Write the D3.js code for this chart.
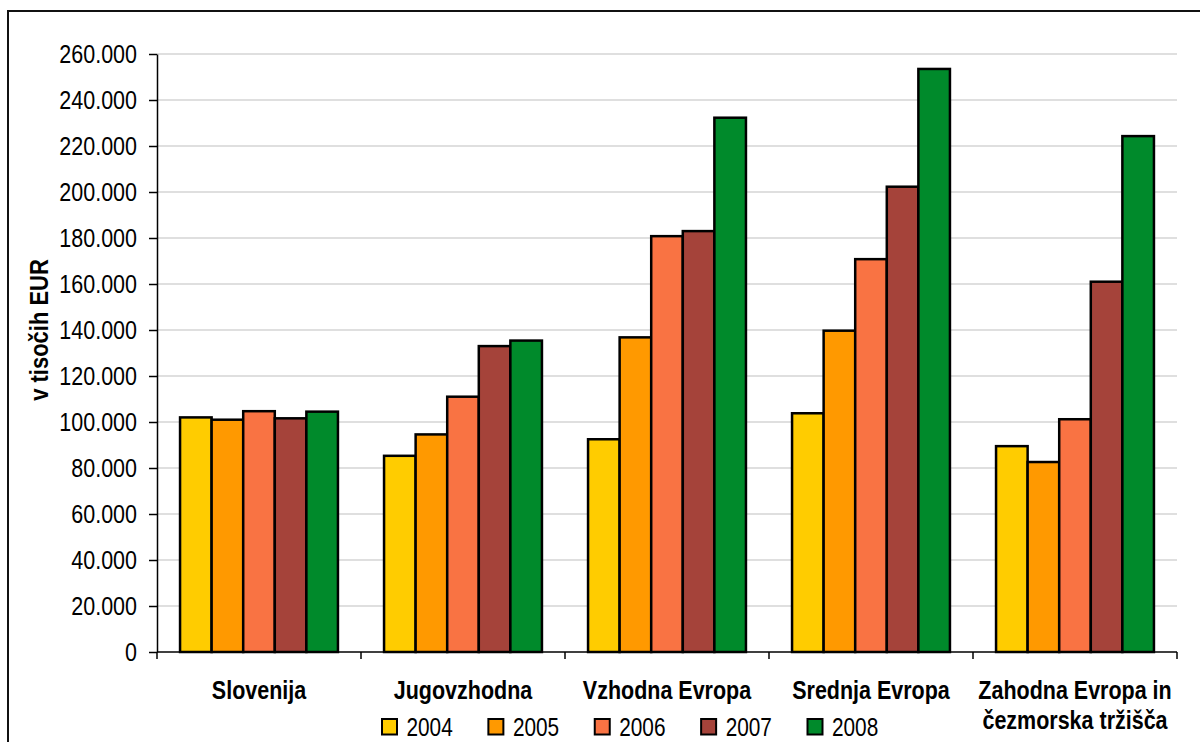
<!DOCTYPE html>
<html>
<head>
<meta charset="utf-8">
<script src="https://cdn.jsdelivr.net/npm/d3@7"></script>
<style>
  html, body { margin: 0; padding: 0; background: #fff; }
  svg text { font-family: "Liberation Sans", Arial, sans-serif; fill: #000; }
</style>
</head>
<body>
<svg id="chart" width="1200" height="742"></svg>
<script>
const categories = ["Slovenija", "Jugovzhodna", "Vzhodna Evropa", "Srednja Evropa", "Zahodna Evropa in\nčezmorska tržišča"];
const years = ["2004", "2005", "2006", "2007", "2008"];
const colors = ["#FFCC00", "#FF9900", "#F97343", "#A5433A", "#008A2B"];
const v2004 = [102000, 85300, 92500, 103800, 89500];
const v2005 = [101000, 94600, 136800, 139700, 82600];
const v2006 = [104700, 111000, 180800, 170800, 101200];
const v2007 = [101600, 133000, 183000, 202300, 161000];
const v2008 = [104500, 135400, 232300, 253500, 224300];
const yTicks = [0, 20000, 40000, 60000, 80000, 100000, 120000, 140000, 160000, 180000, 200000, 220000, 240000, 260000];
const yTitle = "v tisočih EUR";

(function () {
const series = [v2004, v2005, v2006, v2007, v2008];
const SX = 0.86;

const svg = d3.select("#chart");
const pLeft = 157, pRight = 1177, pTop = 54, pBottom = 652;

// outer border
svg.append("rect").attr("x", 8).attr("y", 11).attr("width", 1300).attr("height", 900)
  .attr("fill", "none").attr("stroke", "#111").attr("stroke-width", 2);

const x0 = d3.scaleBand().domain(categories).range([pLeft, pRight]).padding(0);
const x1 = d3.scaleBand().domain(years).range([0, x0.bandwidth()]).paddingInner(0).paddingOuter(0.73);
const y = d3.scaleLinear().domain([0, 260000]).range([pBottom, pTop]);

const loc = d3.formatLocale({decimal: ",", thousands: ".", grouping: [3], currency: ["", ""]});
const fmt = loc.format(",");

// gridlines
svg.append("g").selectAll("line").data(yTicks.filter(d => d > 0)).join("line")
  .attr("x1", pLeft).attr("x2", pRight)
  .attr("y1", d => y(d)).attr("y2", d => y(d))
  .attr("stroke", "#c0c0c0").attr("stroke-width", 1.2);

// bars
const g = svg.append("g");
categories.forEach((c, ci) => {
  years.forEach((yr, yi) => {
    const v = series[yi][ci];
    g.append("rect")
      .attr("x", x0(c) + x1(yr))
      .attr("y", y(v))
      .attr("width", x1.bandwidth())
      .attr("height", y(0) - y(v))
      .attr("fill", colors[yi])
      .attr("stroke", "#000")
      .attr("stroke-width", 2.5);
  });
});

// y axis
const yAxis = svg.append("g").attr("transform", `translate(${pLeft},0)`)
  .call(d3.axisLeft(y).tickValues(yTicks).tickSize(8).tickSizeOuter(0).tickFormat(d => d === 0 ? "0" : fmt(d)));
yAxis.select(".domain").attr("stroke", "#000").attr("stroke-width", 1.5);
yAxis.selectAll(".tick line").attr("stroke", "#000").attr("stroke-width", 1.5);
yAxis.selectAll(".tick text")
  .attr("font-family", "Liberation Sans, Arial, sans-serif")
  .attr("font-size", 25)
  .attr("x", -20 / SX)
  .attr("dy", "0.35em")
  .attr("transform", `scale(${SX},1)`)
  .attr("fill", "#000");

// x axis line & ticks at category boundaries
svg.append("line").attr("x1", pLeft).attr("x2", pRight).attr("y1", pBottom).attr("y2", pBottom)
  .attr("stroke", "#000").attr("stroke-width", 1.5);
const bounds = categories.map(c => x0(c)).concat([x0(categories[categories.length - 1]) + x0.bandwidth()]);
svg.append("g").selectAll("line").data(bounds).join("line")
  .attr("x1", d => d).attr("x2", d => d).attr("y1", pBottom).attr("y2", pBottom + 7)
  .attr("stroke", "#000").attr("stroke-width", 1.5);

// category labels
categories.forEach(c => {
  const lines = c.split("\n");
  const cx = x0(c) + x0.bandwidth() / 2;
  lines.forEach((ln, li) => {
    svg.append("text")
      .attr("transform", `translate(${cx},${699 + li * 30}) scale(${SX},1)`)
      .attr("text-anchor", "middle")
      .attr("font-size", 25)
      .attr("font-weight", "bold")
      .text(ln);
  });
});

// y title
svg.append("text")
  .attr("transform", `translate(48,330) rotate(-90) scale(0.88,1)`)
  .attr("text-anchor", "middle")
  .attr("font-size", 25)
  .attr("font-weight", "bold")
  .text(yTitle);

// legend
const legX = d3.scalePoint().domain(years).range([382, 807.5]);
years.forEach((yr, i) => {
  const lx = legX(yr);
  svg.append("rect").attr("x", lx).attr("y", 719).attr("width", 15).attr("height", 15.5)
    .attr("fill", colors[i]).attr("stroke", "#000").attr("stroke-width", 2);
  svg.append("text")
    .attr("transform", `translate(${lx + 24.5},736) scale(0.8,1)`)
    .attr("font-size", 26)
    .text(yr);
});
})();
</script>
</body>
</html>
